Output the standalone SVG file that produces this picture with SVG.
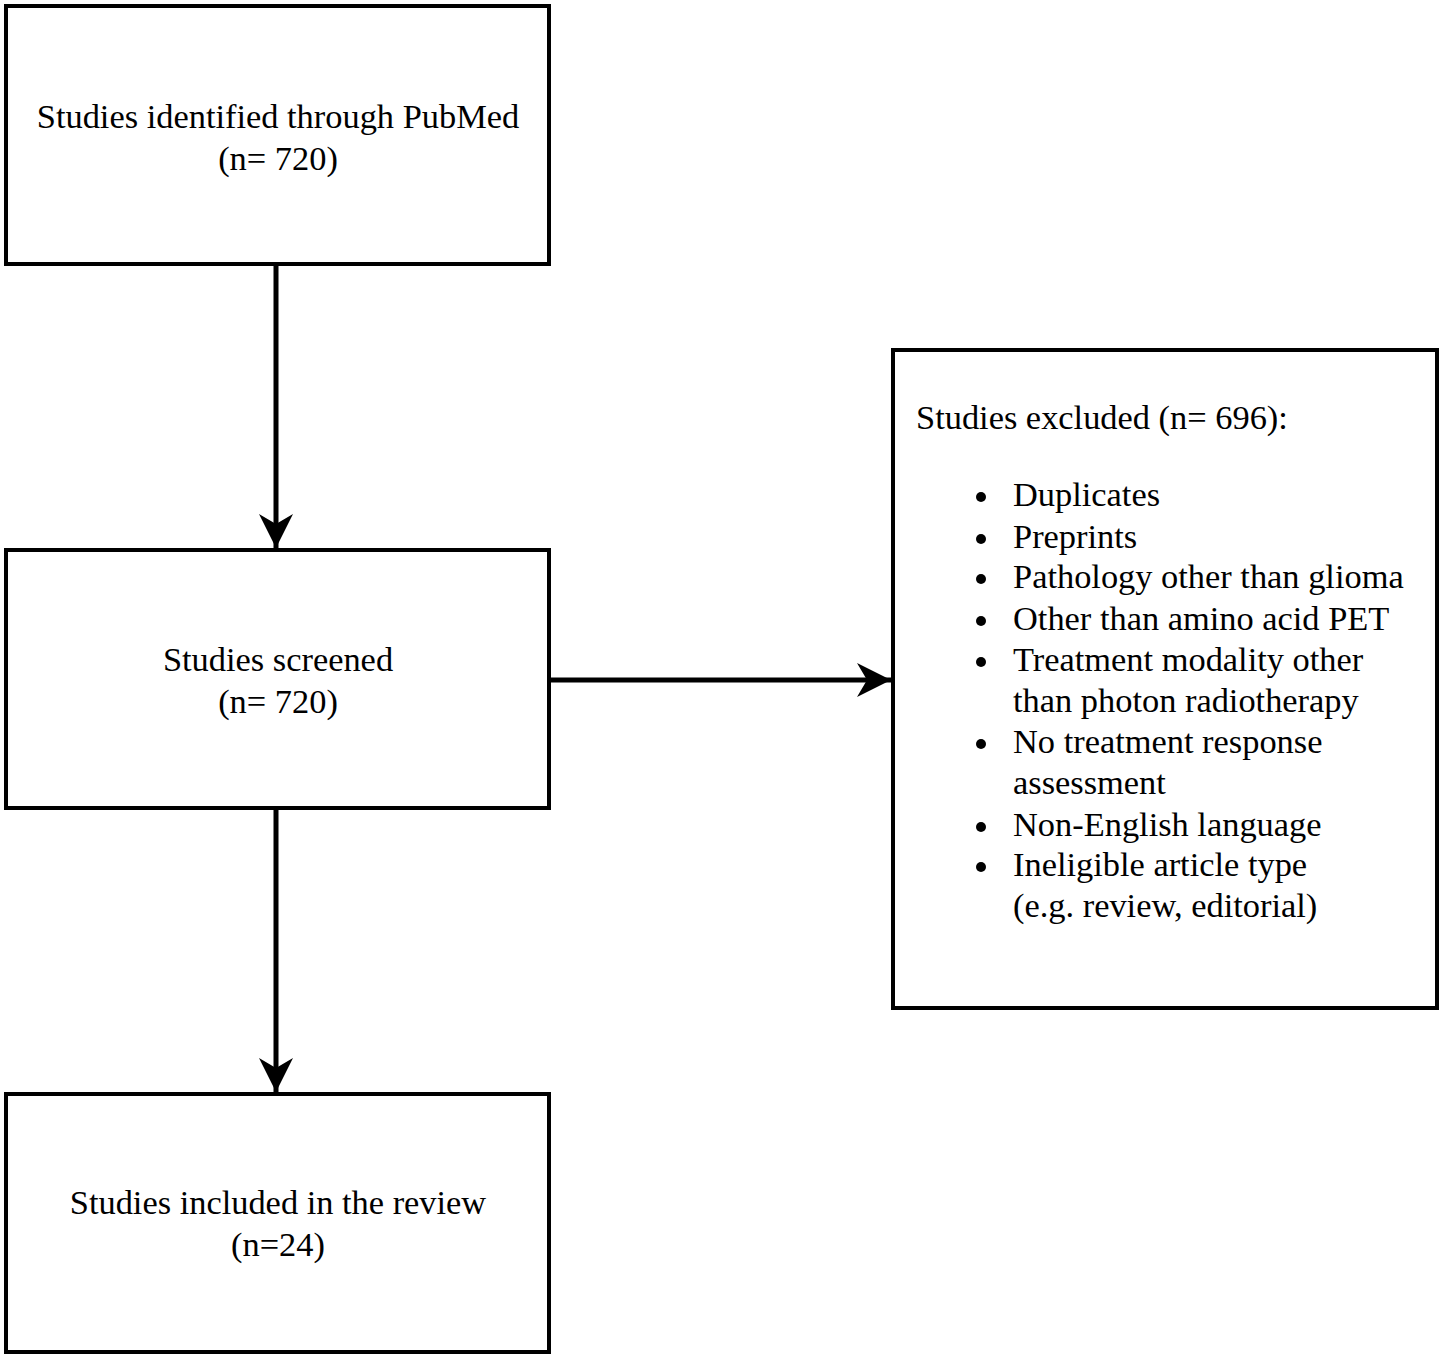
<svg xmlns="http://www.w3.org/2000/svg" width="1443" height="1358" viewBox="0 0 1443 1358">
<style>
.box{fill:#fff;stroke:#000;stroke-width:4}
.t{font-family:"Liberation Serif","Times New Roman",serif;font-size:34.4px;fill:#000}
.c{text-anchor:middle}
.line{stroke:#000;stroke-width:5;fill:none}
</style>
<defs>
<marker id="ah" markerUnits="userSpaceOnUse" viewBox="0 0 36 36" markerWidth="36" markerHeight="36" refX="34" refY="18" orient="auto">
<path d="M0,1 L34,18 L0,35 L10,18 Z" fill="#000"/>
</marker>
</defs>
<rect width="1443" height="1358" fill="#fff"/>
<g id="connectors">
<line class="line" x1="276" y1="266" x2="276" y2="548" marker-end="url(#ah)"/>
<line class="line" x1="551" y1="680" x2="891" y2="680" marker-end="url(#ah)"/>
<line class="line" x1="276" y1="810" x2="276" y2="1092" marker-end="url(#ah)"/>
</g>
<g id="node-identified">
<rect class="box" x="6" y="6" width="543" height="258"/>
<text class="t c" x="278" y="128">Studies identified through PubMed</text>
<text class="t c" x="278" y="170">(n= 720)</text>
</g>
<g id="node-screened">
<rect class="box" x="6" y="550" width="543" height="258"/>
<text class="t c" x="278" y="671">Studies screened</text>
<text class="t c" x="278" y="713">(n= 720)</text>
</g>
<g id="node-included">
<rect class="box" x="6" y="1094" width="543" height="258"/>
<text class="t c" x="278" y="1214">Studies included in the review</text>
<text class="t c" x="278" y="1256">(n=24)</text>
</g>
<g id="node-excluded">
<rect class="box" x="893" y="350" width="544" height="658"/>
<text class="t" x="916" y="429">Studies excluded (n= 696):</text>
<g>
<circle cx="981" cy="497" r="5"/>
<circle cx="981" cy="539" r="5"/>
<circle cx="981" cy="579" r="5"/>
<circle cx="981" cy="621" r="5"/>
<circle cx="981" cy="662" r="5"/>
<circle cx="981" cy="744" r="5"/>
<circle cx="981" cy="827" r="5"/>
<circle cx="981" cy="867" r="5"/>
</g>
<text class="t" x="1013" y="506">Duplicates</text>
<text class="t" x="1013" y="548">Preprints</text>
<text class="t" x="1013" y="588">Pathology other than glioma</text>
<text class="t" x="1013" y="630">Other than amino acid PET</text>
<text class="t" x="1013" y="671">Treatment modality other</text>
<text class="t" x="1013" y="712">than photon radiotherapy</text>
<text class="t" x="1013" y="753">No treatment response</text>
<text class="t" x="1013" y="794">assessment</text>
<text class="t" x="1013" y="836">Non-English language</text>
<text class="t" x="1013" y="876">Ineligible article type</text>
<text class="t" x="1013" y="917">(e.g. review, editorial)</text>
</g>
</svg>
